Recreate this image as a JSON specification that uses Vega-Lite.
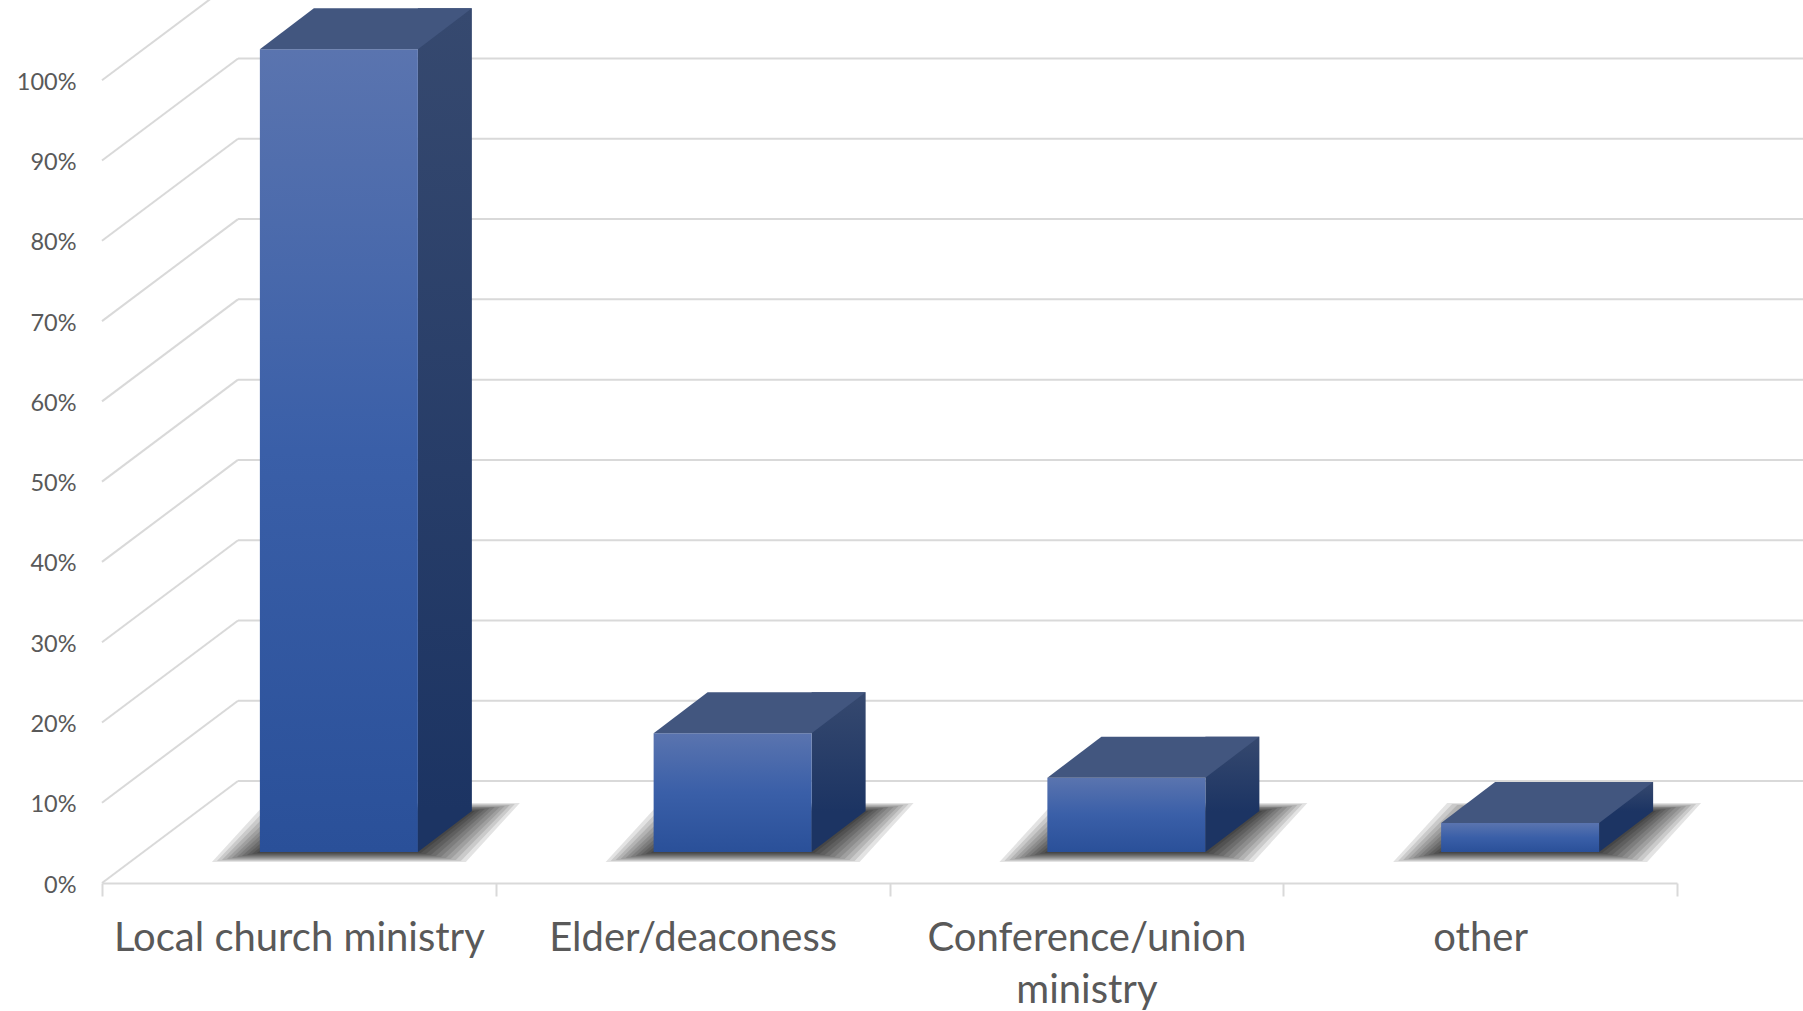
{
  "$schema": "https://vega.github.io/schema/vega-lite/v6.json",
  "width": 1575,
  "height": 883,
  "autosize": "none",
  "padding": {"left": 102, "top": 0, "right": 126, "bottom": 128},
  "background": "white",
  "config": {
    "view": {"stroke": null},
    "font": "Lato",
    "axis": {"labelFont": "Lato", "labelColor": "#595959", "grid": false}
  },
  "datasets": {
    "bars": [
      {"category": "Local church ministry", "value": 1.0},
      {"category": "Elder/deaconess", "value": 0.148},
      {"category": "Conference/union ministry", "value": 0.0925},
      {"category": "other", "value": 0.036}
    ],
    "ticks": [
      {"t": 0}, {"t": 0.1}, {"t": 0.2}, {"t": 0.3}, {"t": 0.4}, {"t": 0.5},
      {"t": 0.6}, {"t": 0.7}, {"t": 0.8}, {"t": 0.9}, {"t": 1.0}
    ]
  },
  "layer": [
    {
      "data": {"name": "ticks"},
      "mark": {"type": "rule", "color": "#d9d9d9", "strokeWidth": 2, "xOffset": 136, "x2Offset": 127, "yOffset": -102},
      "encoding": {
        "x": {"datum": "Local church ministry", "type": "nominal", "bandPosition": 0, "title": null,
              "scale": {"type": "band", "domain": ["Local church ministry", "Elder/deaconess", "Conference/union ministry", "other"], "paddingInner": 0, "paddingOuter": 0}},
        "x2": {"datum": "other", "bandPosition": 1},
        "y": {"field": "t", "type": "quantitative", "title": null,
              "scale": {"domain": [0, 1.1], "nice": false, "zero": true}}
      }
    },
    {
      "data": {"name": "ticks"},
      "mark": {"type": "rule", "color": "#d9d9d9", "strokeWidth": 2, "x2Offset": 136, "y2Offset": -102},
      "encoding": {
        "x": {"datum": "Local church ministry", "type": "nominal", "bandPosition": 0, "title": null},
        "x2": {"datum": "Local church ministry", "bandPosition": 0},
        "y": {"field": "t", "type": "quantitative", "title": null},
        "y2": {"field": "t"}
      }
    },
    {"data": {"name": "bars"}, "mark": {"type": "point", "shape": "M-127,10L127,10L181,-49L-73,-49Z", "size": 4, "filled": true, "color": "#000000", "opacity": 0.11, "strokeWidth": 0, "xOffset": 40, "yOffset": -31},
     "encoding": {"x": {"field": "category", "type": "nominal", "title": null}, "y": {"datum": 0, "type": "quantitative", "title": null}}},
    {"data": {"name": "bars"}, "mark": {"type": "point", "shape": "M-122,9L122,9L176,-48L-68,-48Z", "size": 4, "filled": true, "color": "#000000", "opacity": 0.11, "strokeWidth": 0, "xOffset": 40, "yOffset": -31},
     "encoding": {"x": {"field": "category", "type": "nominal", "title": null}, "y": {"datum": 0, "type": "quantitative", "title": null}}},
    {"data": {"name": "bars"}, "mark": {"type": "point", "shape": "M-117,8L117,8L171,-47L-63,-47Z", "size": 4, "filled": true, "color": "#000000", "opacity": 0.11, "strokeWidth": 0, "xOffset": 40, "yOffset": -31},
     "encoding": {"x": {"field": "category", "type": "nominal", "title": null}, "y": {"datum": 0, "type": "quantitative", "title": null}}},
    {"data": {"name": "bars"}, "mark": {"type": "point", "shape": "M-112,7L112,7L166,-46L-58,-46Z", "size": 4, "filled": true, "color": "#000000", "opacity": 0.11, "strokeWidth": 0, "xOffset": 40, "yOffset": -31},
     "encoding": {"x": {"field": "category", "type": "nominal", "title": null}, "y": {"datum": 0, "type": "quantitative", "title": null}}},
    {"data": {"name": "bars"}, "mark": {"type": "point", "shape": "M-107,6L107,6L161,-45L-53,-45Z", "size": 4, "filled": true, "color": "#000000", "opacity": 0.11, "strokeWidth": 0, "xOffset": 40, "yOffset": -31},
     "encoding": {"x": {"field": "category", "type": "nominal", "title": null}, "y": {"datum": 0, "type": "quantitative", "title": null}}},
    {"data": {"name": "bars"}, "mark": {"type": "point", "shape": "M-102,5L102,5L156,-45L-48,-45Z", "size": 4, "filled": true, "color": "#000000", "opacity": 0.11, "strokeWidth": 0, "xOffset": 40, "yOffset": -31},
     "encoding": {"x": {"field": "category", "type": "nominal", "title": null}, "y": {"datum": 0, "type": "quantitative", "title": null}}},
    {"data": {"name": "bars"}, "mark": {"type": "point", "shape": "M-97,4L97,4L151,-44L-43,-44Z", "size": 4, "filled": true, "color": "#000000", "opacity": 0.12, "strokeWidth": 0, "xOffset": 40, "yOffset": -31},
     "encoding": {"x": {"field": "category", "type": "nominal", "title": null}, "y": {"datum": 0, "type": "quantitative", "title": null}}},
    {"data": {"name": "bars"}, "mark": {"type": "point", "shape": "M-92,3L92,3L146,-43L-38,-43Z", "size": 4, "filled": true, "color": "#000000", "opacity": 0.12, "strokeWidth": 0, "xOffset": 40, "yOffset": -31},
     "encoding": {"x": {"field": "category", "type": "nominal", "title": null}, "y": {"datum": 0, "type": "quantitative", "title": null}}},
    {"data": {"name": "bars"}, "mark": {"type": "point", "shape": "M-87,2L87,2L141,-42L-33,-42Z", "size": 4, "filled": true, "color": "#000000", "opacity": 0.13, "strokeWidth": 0, "xOffset": 40, "yOffset": -31},
     "encoding": {"x": {"field": "category", "type": "nominal", "title": null}, "y": {"datum": 0, "type": "quantitative", "title": null}}},
    {"data": {"name": "bars"}, "mark": {"type": "point", "shape": "M-82,1L82,1L136,-41L-28,-41Z", "size": 4, "filled": true, "color": "#000000", "opacity": 0.14, "strokeWidth": 0, "xOffset": 40, "yOffset": -31},
     "encoding": {"x": {"field": "category", "type": "nominal", "title": null}, "y": {"datum": 0, "type": "quantitative", "title": null}}},
    {
      "data": {"name": "bars"},
      "mark": {"type": "bar", "width": 54, "xOffset": 146, "yOffset": -72, "y2Offset": -72,
               "color": {"gradient": "linear", "x1": 0, "y1": 0, "x2": 0, "y2": 1,
                         "stops": [{"offset": 0, "color": "#36496f"}, {"offset": 1, "color": "#1c3463"}]}},
      "encoding": {
        "x": {"field": "category", "type": "nominal", "title": null},
        "y": {"field": "value", "type": "quantitative", "title": null},
        "y2": {"datum": 0}
      }
    },
    {
      "data": {"name": "bars"},
      "mark": {"type": "point", "shape": "M0,0L54,-41L0,-41Z", "size": 4, "filled": true, "color": "#1c3463", "opacity": 1, "strokeWidth": 0, "xOffset": 119, "yOffset": -31},
      "encoding": {
        "x": {"field": "category", "type": "nominal", "title": null},
        "y": {"datum": 0, "type": "quantitative", "title": null}
      }
    },
    {
      "data": {"name": "bars"},
      "mark": {"type": "bar", "width": 158, "xOffset": 40, "yOffset": -31, "y2Offset": -31,
               "color": {"gradient": "linear", "x1": 0, "y1": 0, "x2": 0, "y2": 1,
                         "stops": [{"offset": 0, "color": "#5a74af"}, {"offset": 0.5, "color": "#3a5fa8"}, {"offset": 1, "color": "#2a5099"}]}},
      "encoding": {
        "x": {"field": "category", "type": "nominal", "title": null,
              "axis": {"title": null, "labelFontSize": 40, "labelLineHeight": 52, "labelPadding": 22, "labelAngle": 0,
                       "labelAlign": "center", "labelBaseline": "top",
                       "labelLimit": 1000, "labelOverlap": false, "labelFlush": false,
                       "tickBand": "extent", "tickSize": 13, "tickColor": "#d9d9d9", "tickWidth": 2,
                       "domainColor": "#d9d9d9", "domainWidth": 2,
                       "labelExpr": "datum.label == 'Conference/union ministry' ? ['Conference/union', 'ministry'] : datum.label"}},
        "y": {"field": "value", "type": "quantitative", "title": null,
              "axis": {"title": null, "values": [0, 0.1, 0.2, 0.3, 0.4, 0.5, 0.6, 0.7, 0.8, 0.9, 1.0], "format": ".0%",
                       "ticks": false, "domain": false, "labelPadding": 26, "labelFontSize": 23.5, "labelOffset": 2}},
        "y2": {"datum": 0}
      }
    },
    {
      "data": {"name": "bars"},
      "mark": {"type": "point", "shape": "M-79,0L79,0L133,-41L-25,-41Z", "size": 4, "filled": true, "color": "#42567f", "opacity": 1, "strokeWidth": 0, "xOffset": 40, "yOffset": -31},
      "encoding": {
        "x": {"field": "category", "type": "nominal", "title": null},
        "y": {"field": "value", "type": "quantitative", "title": null}
      }
    }
  ]
}
